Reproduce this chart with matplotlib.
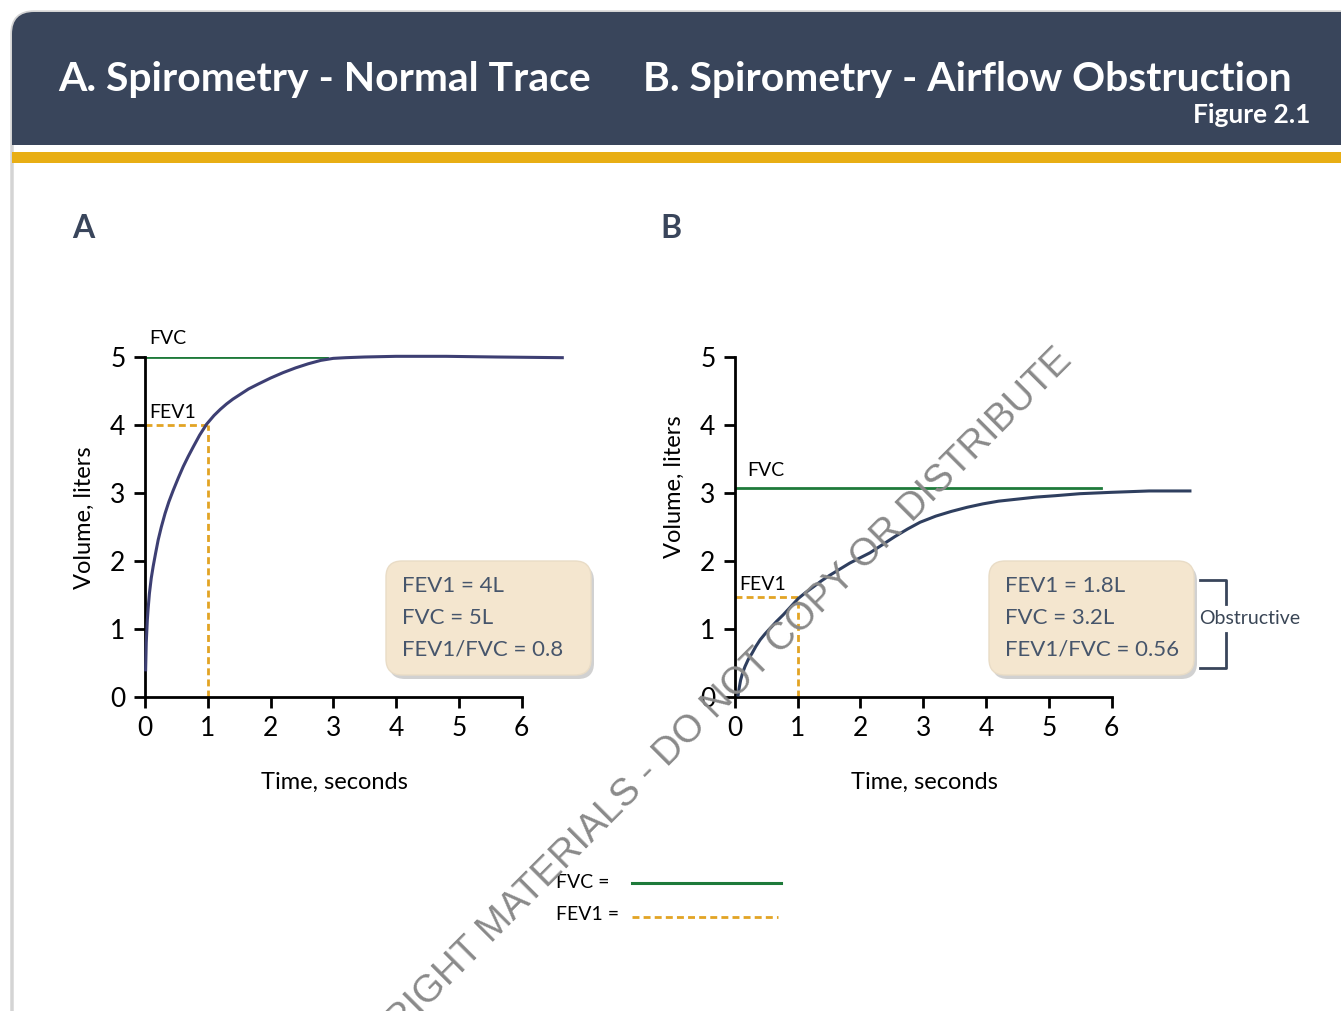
import matplotlib
matplotlib.use('Agg')
import matplotlib.pyplot as plt
from matplotlib.patches import FancyBboxPatch, Rectangle

plt.rcParams['font.family'] = ['Lato', 'DejaVu Sans']

W, H = 1341, 1011

# curve data (time in s, volume in L)
normal_t = [0.01, 0.02, 0.037, 0.05, 0.07, 0.10, 0.13, 0.17, 0.21, 0.26, 0.32, 0.38,
            0.45, 0.53, 0.61, 0.69, 0.77, 0.87, 0.98, 1.1, 1.2, 1.3, 1.4, 1.5,
            1.65, 1.8, 2.0, 2.2, 2.4, 2.6, 2.8, 3.0, 3.2, 3.5, 4.0, 4.8, 5.6, 6.65]
normal_v = [0.40, 0.80, 1.13, 1.30, 1.52, 1.75, 1.92, 2.12, 2.31, 2.50, 2.70, 2.87,
            3.04, 3.22, 3.39, 3.54, 3.68, 3.85, 4.01, 4.14, 4.23, 4.31, 4.38, 4.44,
            4.53, 4.60, 4.69, 4.77, 4.84, 4.90, 4.95, 4.98, 4.99, 5.0, 5.01, 5.01, 5.0, 4.99]
obstr_t = [0.05, 0.07, 0.09, 0.12, 0.16, 0.21, 0.27, 0.33, 0.40, 0.48, 0.56, 0.66,
           0.77, 0.89, 1.01, 1.13, 1.25, 1.38, 1.51, 1.67, 1.83, 2.0, 2.15, 2.35,
           2.55, 2.75, 2.95, 3.2, 3.45, 3.7, 3.95, 4.2, 4.5, 4.8, 5.1, 5.5, 6.0, 6.6, 7.25]
obstr_v = [0.03, 0.15, 0.25, 0.35, 0.45, 0.55, 0.64, 0.74, 0.84, 0.93, 1.01, 1.11,
           1.21, 1.33, 1.45, 1.54, 1.62, 1.71, 1.79, 1.88, 1.97, 2.05, 2.12, 2.24,
           2.36, 2.47, 2.57, 2.66, 2.73, 2.79, 2.84, 2.88, 2.91, 2.94, 2.96, 2.99, 3.01, 3.03, 3.03]

normal_fvc, normal_fvc_end = 5.0, 2.9
normal_fev1 = 4.0
obstr_fvc, obstr_fvc_end = 3.07, 5.84
obstr_fev1 = 1.47

normal_box = ['FEV1 = 4L', 'FVC = 5L', 'FEV1/FVC = 0.8']
obstr_box = ['FEV1 = 1.8L', 'FVC = 3.2L', 'FEV1/FVC = 0.56']

x_ticks = [0, 1, 2, 3, 4, 5, 6]
y_ticks = [0, 1, 2, 3, 4, 5]

NAVY = '#39455b'
GOLD = '#e8ae14'
GREEN = '#1e7a3a'
DASH = '#e2a424'
BOXFILL = '#f4e6cf'
BOXTEXT = '#46556b'

fig = plt.figure(figsize=(W / 100, H / 100), dpi=100)

# background / decoration layer in pixel coordinates
bg = fig.add_axes([0, 0, 1, 1], zorder=-1)
bg.set_xlim(0, W)
bg.set_ylim(H, 0)
bg.axis('off')
bg.add_patch(FancyBboxPatch((12, 12), W + 60, H + 60, boxstyle='round,pad=0,rounding_size=22',
                            facecolor='white', edgecolor='#d4d4d4', linewidth=2.5))
bg.add_patch(FancyBboxPatch((12, 12), W + 60, 133, boxstyle='round,pad=0,rounding_size=22',
                            facecolor=NAVY, edgecolor='none'))
bg.add_patch(Rectangle((12, 100), W, 45, facecolor=NAVY, edgecolor='none'))
bg.add_patch(Rectangle((12, 152), W, 11, facecolor=GOLD, edgecolor='none'))

bg.text(58, 79, 'A. Spirometry - Normal Trace', color='white', fontsize=29.4,
        fontweight='bold', ha='left', va='center')
bg.text(643, 79, 'B. Spirometry - Airflow Obstruction', color='white', fontsize=29.4,
        fontweight='bold', ha='left', va='center')
bg.text(1310, 115, 'Figure 2.1', color='white', fontsize=19,
        fontweight='bold', ha='right', va='center')
bg.text(72, 228, 'A', color=NAVY, fontsize=23, fontweight='bold', ha='left', va='center')
bg.text(660, 228, 'B', color=NAVY, fontsize=23, fontweight='bold', ha='left', va='center')


def make_axes(left_px):
    ax = fig.add_axes([left_px / W, 1 - 697 / H, 376.5 / W, 340 / H])
    ax.set_xlim(0, 6)
    ax.set_ylim(0, 5)
    ax.set_xticks(x_ticks)
    ax.set_yticks(y_ticks)
    ax.spines['top'].set_visible(False)
    ax.spines['right'].set_visible(False)
    for s in ('left', 'bottom'):
        ax.spines[s].set_linewidth(2)
    ax.tick_params(direction='out', length=8, width=2, labelsize=19, pad=6)
    ax.patch.set_alpha(0)
    return ax


def stat_box(x, y, lines):
    bg.add_patch(FancyBboxPatch((x + 3, y + 4), 205, 114, boxstyle='round,pad=0,rounding_size=16',
                                facecolor='#9a9a9a', edgecolor='none', alpha=0.45, zorder=1))
    bg.add_patch(FancyBboxPatch((x, y), 205, 114, boxstyle='round,pad=0,rounding_size=16',
                                facecolor=BOXFILL, edgecolor='#e9dcc6', linewidth=1, zorder=2))
    for i, s in enumerate(lines):
        bg.text(x + 16, y + 25 + i * 31.5, s, color=BOXTEXT, fontsize=16,
                ha='left', va='center', zorder=3)


# panel A
axA = make_axes(145)
axA.plot(normal_t, normal_v, color='#3d3f73', lw=2.2, clip_on=False, zorder=3)
axA.plot([0, normal_fvc_end], [normal_fvc, normal_fvc], color=GREEN, lw=2, zorder=2)
axA.plot([0, 1], [normal_fev1, normal_fev1], color=DASH, lw=2, ls=(0, (2.5, 1.5)))
axA.plot([1, 1], [0, normal_fev1], color=DASH, lw=2, ls=(0, (2.5, 1.5)))
axA.text(0.06, 5.15, 'FVC', fontsize=14, ha='left', va='bottom')
axA.text(0.06, 4.06, 'FEV1', fontsize=14, ha='left', va='bottom')
stat_box(386, 561, normal_box)

# panel B
axB = make_axes(735)
axB.plot(obstr_t, obstr_v, color='#2f3f5f', lw=2.2, clip_on=False, zorder=3)
axB.plot([0, obstr_fvc_end], [obstr_fvc, obstr_fvc], color=GREEN, lw=2, zorder=2)
axB.plot([0, 1], [obstr_fev1, obstr_fev1], color=DASH, lw=2, ls=(0, (2.5, 1.5)))
axB.plot([1, 1], [0, obstr_fev1], color=DASH, lw=2, ls=(0, (2.5, 1.5)))
axB.text(0.2, 3.2, 'FVC', fontsize=14, ha='left', va='bottom')
axB.text(0.06, 1.53, 'FEV1', fontsize=14, ha='left', va='bottom')
stat_box(989, 561, obstr_box)

# obstructive bracket
bg.plot([1200, 1226, 1226], [580, 580, 604], color=NAVY, lw=2, solid_joinstyle='round')
bg.plot([1226, 1226, 1200], [633, 668, 668], color=NAVY, lw=2, solid_joinstyle='round')
bg.text(1199, 618, 'Obstructive', fontsize=14, color='#3a4656', ha='left', va='center')

# axis labels
fig.text(84 / W, 1 - 518 / H, 'Volume, liters', rotation=90, fontsize=17, ha='center', va='center')
fig.text(674 / W, 1 - 487 / H, 'Volume, liters', rotation=90, fontsize=17, ha='center', va='center')
fig.text(334 / W, 1 - 782 / H, 'Time, seconds', fontsize=17, ha='center', va='center')
fig.text(924 / W, 1 - 782 / H, 'Time, seconds', fontsize=17, ha='center', va='center')

# key
bg.text(556, 882, 'FVC =', fontsize=14, ha='left', va='center')
bg.text(556, 915, 'FEV1 =', fontsize=14, ha='left', va='center')
bg.plot([632, 781], [883, 883], color=GREEN, lw=2.2)
bg.plot([632, 778], [917, 917], color=DASH, lw=2, ls=(0, (2.5, 1.5)))

# watermark
fig.text(1073 / W, 1 - 362 / H, 'COPYRIGHT MATERIALS - DO NOT COPY OR DISTRIBUTE',
         family='Liberation Sans', fontsize=27.6, color='#8a8a8a', rotation=45,
         rotation_mode='anchor', ha='right', va='baseline', zorder=10)

fig.savefig('out.png', dpi=100)
